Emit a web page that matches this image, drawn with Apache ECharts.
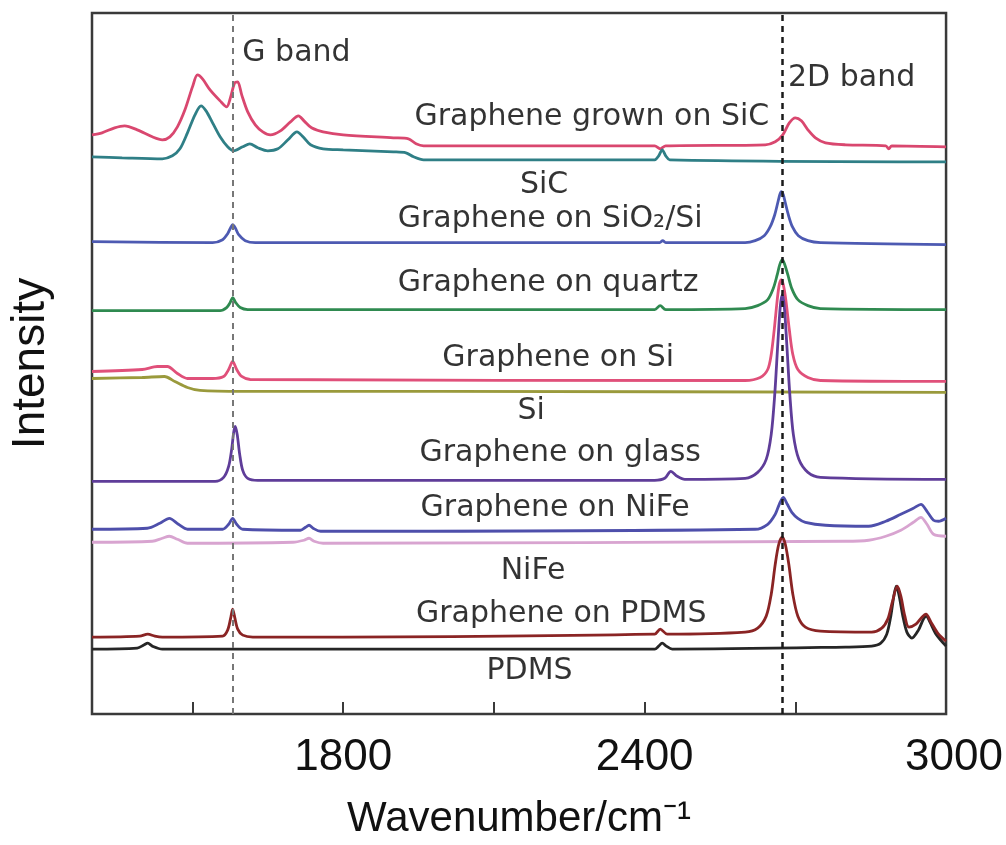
<!DOCTYPE html>
<html>
<head>
<meta charset="utf-8">
<script src="https://cdn.jsdelivr.net/npm/echarts@6/dist/echarts.min.js"></script>
<style>
html, body { margin: 0; padding: 0; background: #fff; }
#main { width: 1006px; height: 845px; }
</style>
</head>
<body>
<div id="main"></div>
<script>
// spectra: [wavenumber, stacked intensity]
var grownOnSiC = [[1300,580],[1320,582],[1345,587],[1365,589],[1390,585],[1420,578],[1440,575],[1455,578],[1470,588],[1485,605],[1500,628],[1510,640],[1520,636],[1535,625],[1555,614],[1568,608],[1576,618],[1584,632],[1590,633],[1598,620],[1610,603],[1625,590],[1640,583],[1655,580],[1675,584],[1695,593],[1711,599],[1722,594],[1737,587],[1760,583],[1800,580],[1900,577],[1930,576],[1945,571],[1960,569],[2420,569],[2431,566],[2442,569],[2640,570],[2660,573],[2675,580],[2688,592],[2700,597],[2712,594],[2725,585],[2740,577],[2760,572],[2800,570],[2880,569],[2886,566],[2892,569],[3000,568]];
var sic = [[1300,558],[1360,557],[1440,556],[1460,559],[1475,566],[1490,582],[1505,600],[1517,609],[1527,604],[1540,592],[1555,578],[1570,568],[1582,564],[1600,568],[1614,571],[1630,567],[1650,564],[1670,566],[1690,575],[1708,583],[1720,578],[1735,570],[1760,566],[1800,565],[1900,563],[1925,562],[1940,558],[1960,555],[2420,555],[2428,559],[2435,565],[2442,559],[2450,555],[3000,553]];
var onSiO2 = [[1300,473],[1540,472],[1560,475],[1570,481],[1576,487],[1580,490],[1585,487],[1592,480],[1605,474],[1625,472],[2430,472],[2436,474],[2442,472],[2600,472],[2620,474],[2638,479],[2650,488],[2659,500],[2665,512],[2669,520],[2672,523],[2676,520],[2680,512],[2686,500],[2694,488],[2706,479],[2725,474],[2750,472],[3000,470]];
var onQuartz = [[1300,404],[1555,404],[1568,407],[1575,412],[1580,417],[1586,412],[1595,407],[1610,405],[2420,405],[2431,409],[2442,405],[2600,406],[2625,409],[2645,415],[2656,426],[2664,440],[2669,450],[2674,455],[2679,450],[2685,440],[2693,426],[2705,415],[2725,409],[2750,406],[3000,405]];
var si = [[1300,336],[1400,337],[1444,338],[1465,333],[1490,327],[1515,324],[1600,323],[2000,323],[3000,322]];
var onSi = [[1300,343],[1400,345],[1430,348],[1450,348],[1470,341],[1490,336],[1540,336],[1562,338],[1572,345],[1580,353],[1588,345],[1598,338],[1615,335],[2600,334],[2630,337],[2645,345],[2652,360],[2658,385],[2664,415],[2668,430],[2672,435],[2676,430],[2681,415],[2688,385],[2695,360],[2705,345],[2725,337],[2750,334],[3000,333]];
var onGlass = [[1300,233],[1545,233],[1562,237],[1572,248],[1578,265],[1582,282],[1585,288],[1589,280],[1594,260],[1600,244],[1610,236],[1630,234],[2420,234],[2440,236],[2452,243],[2465,238],[2480,235],[2600,236],[2625,242],[2642,255],[2652,280],[2659,320],[2665,370],[2670,408],[2674,420],[2678,408],[2683,370],[2689,320],[2696,280],[2707,255],[2725,242],[2750,237],[3000,235]];
var niFe = [[1300,172],[1420,173],[1440,176],[1454,178],[1470,175],[1490,171],[1700,172],[1722,174],[1732,176],[1742,173],[1760,171],[2800,173],[2846,174],[2880,178],[2910,184],[2935,192],[2950,197],[2962,190],[2975,180],[3000,178]];
var onNiFe = [[1300,185],[1410,186],[1435,191],[1454,196],[1472,190],[1490,185],[1560,185],[1572,190],[1580,196],[1588,190],[1600,185],[1715,184],[1725,187],[1732,189],[1740,186],[1755,183],[2620,185],[2645,190],[2660,200],[2668,210],[2676,217],[2684,210],[2693,202],[2705,196],[2720,192],[2760,189],[2846,188],[2880,193],[2910,200],[2935,206],[2950,210],[2962,203],[2975,194],[2985,193],[3000,196]];
var pdms = [[1300,65],[1390,66],[1403,69],[1411,71],[1420,68],[1440,65],[2420,65],[2428,68],[2435,71],[2443,68],[2455,65],[2800,67],[2852,68],[2870,71],[2882,80],[2890,98],[2896,118],[2901,128],[2906,120],[2914,98],[2922,82],[2932,76],[2945,84],[2955,95],[2961,98],[2968,92],[2980,80],[3000,68]];
var onPDMS = [[1300,77],[1395,78],[1411,80],[1425,78],[1440,77],[1560,78],[1570,84],[1576,96],[1580,105],[1584,97],[1590,85],[1600,79],[1620,77],[2420,80],[2431,85],[2445,80],[2600,82],[2625,86],[2642,98],[2652,120],[2660,150],[2667,170],[2674,177],[2680,170],[2687,150],[2695,120],[2705,98],[2720,87],[2750,83],[2852,82],[2872,86],[2884,95],[2893,112],[2903,128],[2910,118],[2918,98],[2926,87],[2940,90],[2952,97],[2960,100],[2970,92],[2985,80],[3000,73]];

var spectra = [grownOnSiC, sic, onSiO2, onQuartz, si, onSi, onGlass, niFe, onNiFe, pdms, onPDMS];
var spectraColors = ['#d9476f','#2f7f86','#4d5ab2','#2f8a50','#9a9a3c','#e0507a','#5f3d99','#d8a4d0','#4e4fab','#262626','#8a2424'];

// text labels on the plot
var labelText = ['Graphene grown on SiC','SiC','Graphene on SiO\u2082/Si','Graphene on quartz','Graphene on Si','Si','Graphene on glass','Graphene on NiFe','NiFe','Graphene on PDMS','PDMS','G band','2D band'];
var labelWn = [2295,2200,2212,2208,2228,2174,2232,2222,2178,2234,2171,1707,2812];
var labelLevel = [598,530,496,431,356,303,261,206,143,100,43,662,637];

var bandLines = [1580, 2673];
var tickValues = [1500,1800,2100,2400,2700,3000];
var tickLabels = [1800,2400,3000];

var myChart = echarts.init(document.getElementById('main'));

var series = [];
for (var i = 0; i < spectra.length; i++) {
    series.push({
        type: 'line',
        data: spectra[i],
        showSymbol: false,
        smooth: 0.3,
        lineStyle: { color: spectraColors[i], width: 2.8 },
        silent: true
    });
}

// dashed band markers
series.push({
    type: 'line',
    data: [],
    z: 10,
    markLine: {
        silent: true,
        symbol: ['none', 'none'],
        label: { show: false },
        data: [
            { xAxis: bandLines[0], lineStyle: { color: '#777', width: 2, type: [6, 5] } },
            { xAxis: bandLines[1], lineStyle: { color: '#1a1a1a', width: 2.5, type: [6, 5] } }
        ]
    }
});

var labelData = [];
for (var j = 0; j < labelText.length; j++) {
    labelData.push({ name: labelText[j], value: [labelWn[j], labelLevel[j]] });
}
series.push({
    type: 'scatter',
    data: labelData,
    symbolSize: 0,
    silent: true,
    z: 12,
    label: {
        show: true,
        position: 'inside',
        formatter: '{b}',
        color: '#000',
        fontSize: 30,
        fontFamily: 'DejaVu Sans'
    }
});

var option = {
    backgroundColor: '#fff',
    animation: false,
    grid: {
        left: 87, right: 59, top: 13, bottom: 130,
        show: true,
        borderColor: '#3a3a3a',
        borderWidth: 2.5
    },
    xAxis: {
        type: 'value',
        min: 1300,
        max: 3000,
        name: 'Wavenumber/cm\u207B\u00B9',
        nameLocation: 'middle',
        nameGap: 84,
        nameTextStyle: { fontSize: 42, color: '#111', fontFamily: 'Liberation Sans' },
        axisLine: { show: false },
        splitLine: { show: false },
        axisTick: {
            show: true,
            inside: true,
            length: 12,
            customValues: tickValues,
            lineStyle: { color: '#3a3a3a', width: 2 }
        },
        axisLabel: {
            customValues: tickLabels,
            formatter: function (v) {
                // last label sits a little right of its tick in the original
                return v == 3000 ? '{r|' + v + '}' : String(v);
            },
            rich: { r: { fontSize: 44, color: '#111', fontFamily: 'Liberation Sans', padding: [0, 0, 0, 16] } },
            fontSize: 44,
            color: '#111',
            margin: 22,
            fontFamily: 'Liberation Sans'
        }
    },
    yAxis: {
        type: 'value',
        min: 0,
        max: 702,
        name: 'Intensity',
        nameLocation: 'middle',
        nameGap: 38,
        nameTextStyle: { fontSize: 46, color: '#111', fontFamily: 'Liberation Sans' },
        axisLine: { show: false },
        axisTick: { show: false },
        axisLabel: { show: false },
        splitLine: { show: false }
    },
    series: series
};
myChart.setOption(option);
</script>
</body>
</html>
